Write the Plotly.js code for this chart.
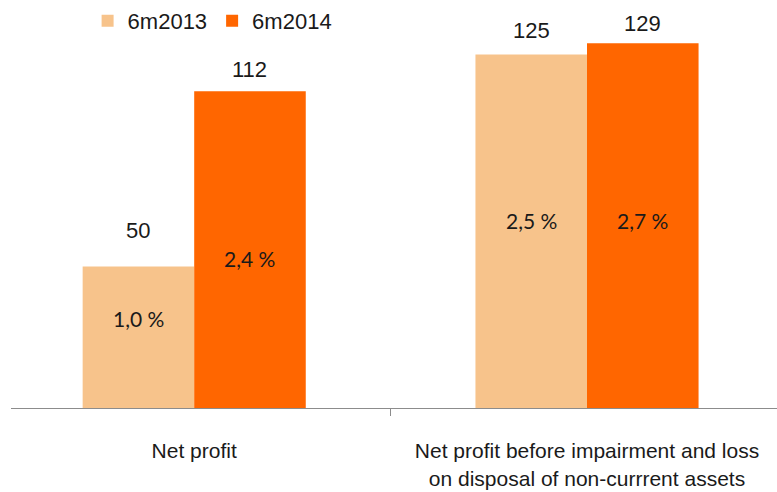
<!DOCTYPE html>
<html>
<head>
<meta charset="utf-8">
<script src="https://cdn.plot.ly/plotly-3.0.1.min.js"></script>
<style>
html,body{margin:0;padding:0;background:#fff;}
#chart{width:777px;height:492px;}
</style>
</head>
<body>
<div id="chart"></div>
<script>
// ---- data ----
const categories = ["Net profit", "Net profit before impairment and loss<br>on disposal of non-currrent assets"];
const series2013 = [50, 125];
const series2014 = [112, 129];
const seriesNames = ["6m2013", "6m2014"];
const pct2013 = ["1,0 %", "2,5 %"];
const pct2014 = ["2,4 %", "2,7 %"];

// ---- layout helpers (positions/styles, not data) ----
const colors = ["#F7C38B", "#FF6600"];
const barGap = 0.432;
const halfBar = (1 - barGap) / 4;           // offset of each bar center from category center
const topShift2013 = [36, 24];               // pixel lift of value labels
const topShift2014 = [22, 20];
const pctY2013 = [31.8, 66.3];               // inner label heights (axis units)
const pctY2014 = [52.9, 66.3];

const font = "Liberation Sans, Arial, sans-serif";
const annotations = [];
categories.forEach((c, i) => {
  annotations.push({x: i - halfBar, y: series2013[i], text: String(series2013[i]), showarrow: false,
    yanchor: "middle", yshift: topShift2013[i], font: {family: font, size: 22, color: "#1a1a1a"}});
  annotations.push({x: i + halfBar, y: series2014[i], text: String(series2014[i]), showarrow: false,
    yanchor: "middle", yshift: topShift2014[i], font: {family: font, size: 22, color: "#1a1a1a"}});
  annotations.push({x: i - halfBar, y: pctY2013[i], text: pct2013[i], showarrow: false,
    yanchor: "middle", font: {family: "Lato, sans-serif", size: 21, color: "#1a1a1a"}});
  annotations.push({x: i + halfBar, y: pctY2014[i], text: pct2014[i], showarrow: false,
    yanchor: "middle", font: {family: "Lato, sans-serif", size: 21, color: "#1a1a1a"}});
});

const traces = [
  {type: "bar", name: seriesNames[0], x: categories, y: series2013, marker: {color: colors[0]}, hoverinfo: "skip"},
  {type: "bar", name: seriesNames[1], x: categories, y: series2014, marker: {color: colors[1]}, hoverinfo: "skip"}
];

const layout = {
  width: 777, height: 492,
  margin: {l: 11, r: 0, t: 10, b: 84},
  paper_bgcolor: "#fff", plot_bgcolor: "#fff",
  barmode: "group", bargap: barGap, bargroupgap: 0,
  font: {family: font, color: "#1a1a1a"},
  showlegend: true,
  legend: {orientation: "h", x: 0.1, xanchor: "left", y: 0.976, yanchor: "middle",
    font: {family: font, size: 22, color: "#1a1a1a"}, bgcolor: "rgba(0,0,0,0)", traceorder: "normal"},
  xaxis: {type: "category", range: [-0.4664, 1.4837], tickson: "boundaries",
    ticks: "outside", ticklen: 7, tickcolor: "#8c8c8c", tickwidth: 1,
    showline: true, linecolor: "#8c8c8c", linewidth: 1, showgrid: false, zeroline: false,
    ticklabelstandoff: 24, tickfont: {family: font, size: 21, color: "#1a1a1a"}},
  yaxis: {range: [0, 140.4], visible: false, showgrid: false, zeroline: false},
  annotations: annotations
};

Plotly.newPlot("chart", traces, layout, {staticPlot: true, displayModeBar: false});
</script>
</body>
</html>
